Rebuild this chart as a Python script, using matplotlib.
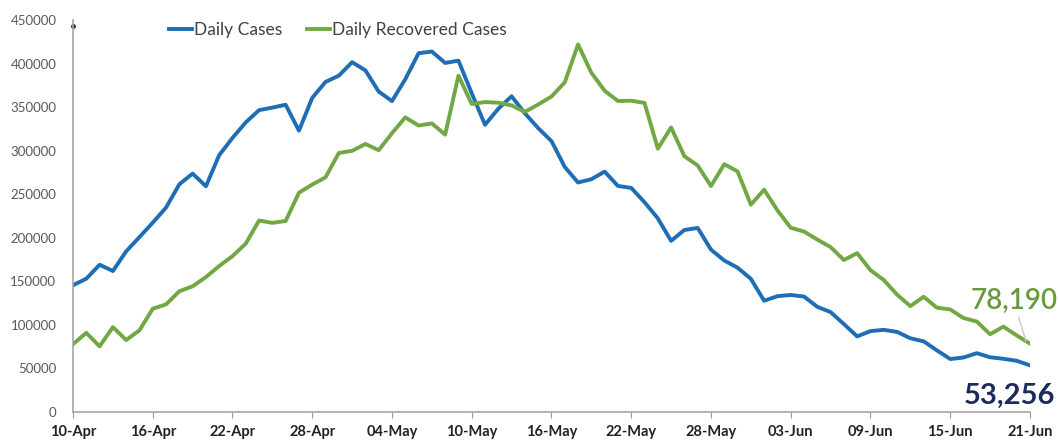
import numpy as np
import pandas as pd
import matplotlib
matplotlib.use("Agg")
import matplotlib.pyplot as plt

# daily values, 10-Apr .. 21-Jun
dates = pd.date_range("2021-04-10", "2021-06-21", freq="D")

daily_cases = [
    145384, 152879, 168912, 161736, 184372, 200739, 217353, 234692, 261500, 273810,
    259170, 295041, 314835, 332730, 346786, 349691, 352991, 323144, 360960, 379257,
    386452, 401993, 392488, 368147, 357229, 382315, 412262, 414188, 401078, 403738,
    366161, 329942, 348421, 362727, 343144, 326098, 311170, 281386, 263533, 267334,
    276110, 259551, 257299, 240842, 222315, 196427, 208921, 211298, 186364, 173790,
    165553, 152734, 127510, 132788, 134154, 132364, 120529, 114460, 100636, 86498,
    92596, 94052, 91702, 84332, 80834, 70421, 60471, 62224, 67208, 62480,
    60753, 58419, 53256,
]

recovered_cases = [
    77567, 90584, 75086, 97168, 82339, 93528, 118302, 123354, 138423, 144178,
    154761, 167457, 178841, 193279, 219838, 217113, 219272, 251827, 261162, 269507,
    297540, 299988, 307865, 300732, 320289, 338439, 329113, 331507, 318609, 386444,
    353818, 356082, 355338, 352181, 344776, 353299, 362437, 378741, 422436, 389851,
    369077, 357295, 357630, 355102, 302544, 326850, 293720, 283135, 259459, 284601,
    276309, 238022, 255287, 231456, 211499, 207071, 197894, 189232, 174399, 182282,
    162664, 151367, 134580, 121311, 132062, 119501, 117525, 107628, 103570, 88977,
    97743, 87619, 78190,
]

yticks = [0, 50000, 100000, 150000, 200000, 250000, 300000, 350000, 400000, 450000]

BLUE = "#1f6db4"
GREEN = "#72a844"
NAVY = "#1f2a5c"
FONT = "Lato"

fig = plt.figure(figsize=(10.58, 4.44), dpi=100)
ax = fig.add_axes([0.069, 0.073, 0.9045, 0.881])

x = np.arange(len(dates))
ax.plot(x, daily_cases, color=BLUE, lw=2.8, label="Daily Cases", solid_joinstyle="round")
ax.plot(x, recovered_cases, color=GREEN, lw=2.8, label="Daily Recovered Cases",
        solid_joinstyle="round")

ax.set_xlim(0, len(dates) - 1)
ax.set_ylim(0, 450000)

tick_pos = x[::6]
ax.set_xticks(tick_pos)
ax.set_xticklabels([d.strftime("%d-%b") for d in dates[::6]],
                   fontfamily=FONT, fontweight="bold", fontsize=10.5, color="#222222")
ax.set_yticks(yticks)
ax.set_yticklabels([str(v) for v in yticks], fontfamily=FONT, fontsize=9.5, color="#595959")
ax.tick_params(axis="y", length=0, pad=12)
ax.tick_params(axis="x", length=4, color="#999999", direction="out", pad=6)

for side in ["top", "right"]:
    ax.spines[side].set_visible(False)
for side in ["left", "bottom"]:
    ax.spines[side].set_color("#a6a6a6")
    ax.spines[side].set_linewidth(1.2)
ax.plot([0], [444000], marker="o", ms=2.5, color="#333333", clip_on=False)

leg = ax.legend(loc="upper center", bbox_to_anchor=(0.277, 1.035), ncol=2, frameon=False,
                handlelength=1.3, handletextpad=0.15, columnspacing=1.4,
                prop={"family": FONT, "size": 12.5})
for t in leg.get_texts():
    t.set_color("#404040")

ax.annotate("78,190", xy=(x[-1] - 0.3, recovered_cases[-1] + 3000),
            xytext=(x[-1] - 4.5, 112000), fontsize=20, color="#6a9a3e",
            fontfamily=FONT, fontweight="semibold", ha="left", va="bottom",
            arrowprops=dict(arrowstyle="-", color="#c8c8d8", lw=1,
                            shrinkA=0, shrinkB=0),
            annotation_clip=False)
ax.text(x[-1] - 5, 3000, "53,256", fontsize=21, color=NAVY, fontfamily=FONT,
        fontweight="bold", ha="left", va="bottom", clip_on=False)

fig.savefig("out.png", dpi=100)
